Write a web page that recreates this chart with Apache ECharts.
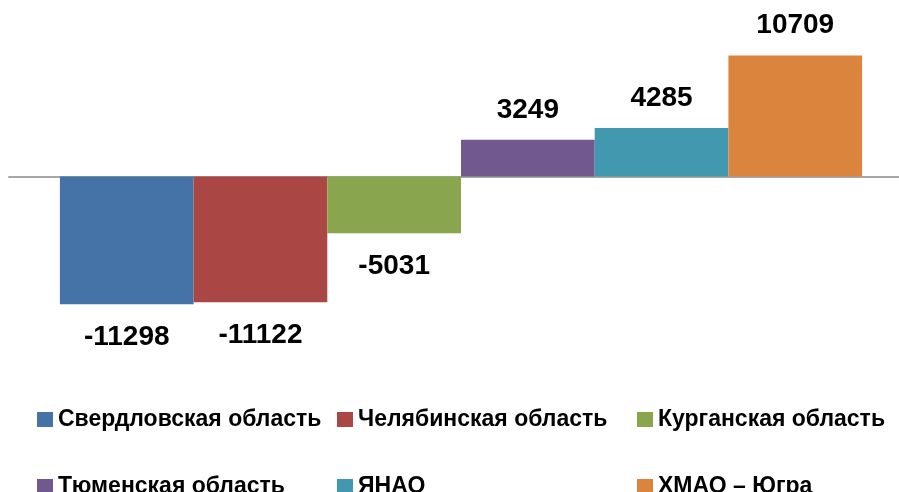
<!DOCTYPE html>
<html>
<head>
<meta charset="utf-8">
<script src="https://cdn.jsdelivr.net/npm/echarts@6/dist/echarts.min.js"></script>
<style>
  html, body { margin: 0; padding: 0; background: #fff; }
  #chart { width: 899px; height: 492px; }
</style>
</head>
<body>
<div id="chart"></div>
<script>
// регионы и значения
const regions = ['Свердловская область', 'Челябинская область', 'Курганская область',
  'Тюменская область', 'ЯНАО', 'ХМАО – Югра']
const values = [-11298, -11122, -5031, 3249, 4285, 10709]
const category = ['']

const palette = ['#4572a7', '#aa4643', '#89a54e', '#71588f', '#4198af', '#db843d']
const font = 'Liberation Sans, Arial, sans-serif'

const chart = echarts.init(document.getElementById('chart'))

const series = regions.map((name, i) => ({
  name: name,
  type: 'bar',
  barWidth: 133.7,
  barGap: '0%',
  data: [values[i]],
  label: {
    show: true,
    position: values[i] < 0 ? 'bottom' : 'top',
    distance: values[i] < 0 ? 19 : 16,
    fontFamily: font,
    fontWeight: 'bold',
    fontSize: 28,
    lineHeight: 28,
    color: '#000'
  }
}))

// легенда: 3 колонки x 2 строки
const legendItem = (name, idx) => ({
  left: 37 + (idx % 3) * 300,
  top: idx < 3 ? 408 : 475,
  itemWidth: 16,
  itemHeight: 15,
  itemGap: 5,
  padding: 0,
  icon: 'rect',
  textStyle: { fontFamily: font, fontWeight: 'bold', fontSize: 23, color: '#000' },
  data: [name]
})

chart.setOption({
  animation: false,
  color: palette,
  grid: { left: 9, width: 904, top: 7, height: 339, outerBoundsMode: 'none' },
  legend: regions.map(legendItem),
  xAxis: {
    type: 'category',
    data: category,
    axisLine: { onZero: true, lineStyle: { color: '#a6a6a6', width: 2 } },
    axisTick: { show: false },
    axisLabel: { show: false }
  },
  yAxis: {
    type: 'value',
    min: -15000,
    max: 15000,
    show: false,
    splitLine: { show: false }
  },
  series: series
})
</script>
</body>
</html>
